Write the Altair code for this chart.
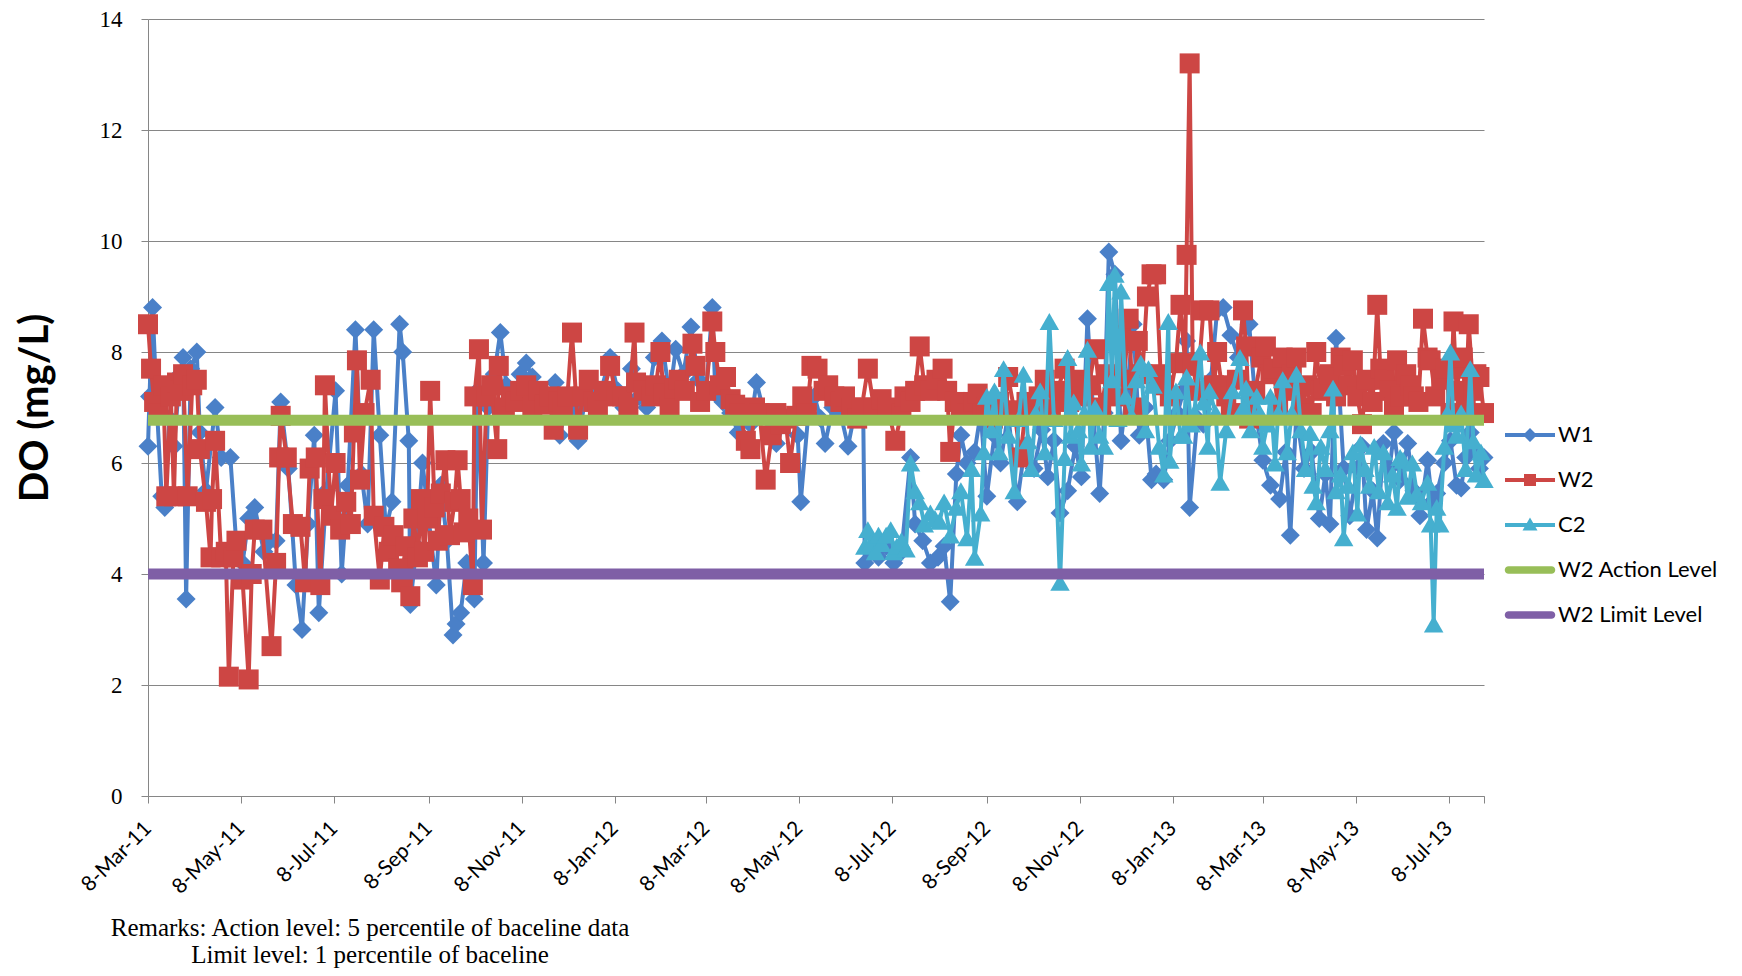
import altair as alt
import pandas as pd

# ---------------- data ----------------
START = "2011-03-08"          # day 0 of the offsets below
X_END = "2013-07-31"

w1_day = [0, 1, 3, 6, 9, 11, 14, 17, 21, 23, 25, 28, 32, 34, 38, 44, 48, 54, 58, 62, 66, 70, 76, 80, 84,
          87, 92, 97, 101, 105, 109, 112, 117, 123, 127, 131, 136, 140, 144, 148, 152, 156, 160, 165, 167,
          171, 172, 176, 180, 184, 189, 192, 196, 200, 202, 205, 209, 214, 216, 220, 223, 227, 231, 235,
          240, 244, 248, 252, 257, 262, 267, 270, 275, 279, 282, 287, 292, 297, 303, 308, 312, 317, 322,
          327, 332, 337, 342, 346, 351, 356, 361, 366, 370, 372, 377, 382, 387, 391, 395, 399, 404, 408,
          412, 417, 422, 426, 428, 433, 437, 441, 444, 449, 454, 459, 464, 469, 470, 474, 479, 484, 489,
          494, 500, 503, 508, 513, 518, 522, 526, 530, 533, 537, 542, 546, 550, 555, 559, 564, 570, 575,
          581, 586, 590, 594, 598, 603, 608, 612, 616, 620, 624, 627, 630, 634, 638, 642, 646, 650, 654,
          658, 661, 666, 670, 675, 679, 681, 683, 688, 692, 697, 701, 705, 710, 715, 722, 727, 731, 736,
          742, 746, 749, 753, 758, 763, 768, 772, 775, 779, 784, 788, 793, 796, 799, 803, 806, 810, 814,
          817, 821, 826, 830, 834, 839, 842, 845, 850, 854, 858, 861, 864, 867, 870, 873, 876]
w1_do = [6.3, 7.2, 8.8, 6.9, 5.4, 5.2, 6.8, 6.3, 7.6, 7.9, 3.55, 7.7, 8.0, 6.55, 5.5, 7.0, 6.1, 6.1, 4.5,
         4.2, 5.0, 5.2, 4.4, 4.6, 4.6, 7.1, 5.9, 3.8, 3.0, 4.9, 6.5, 3.3, 5.5, 7.3, 4.0, 5.6, 8.4, 5.8,
         4.9, 8.4, 6.5, 4.8, 5.3, 8.5, 8.0, 6.4, 3.45, 4.5, 6.0, 5.0, 3.8, 5.6, 4.6, 2.9, 3.1, 3.3, 4.2,
         3.55, 7.3, 4.2, 7.0, 7.6, 8.35, 7.4, 7.2, 7.6, 7.8, 7.55, 7.1, 7.2, 7.45, 6.5, 7.1, 7.0, 6.4,
         7.2, 7.0, 7.3, 7.9, 7.3, 7.0, 7.7, 7.2, 7.0, 7.9, 8.2, 7.2, 8.05, 7.6, 8.45, 7.5, 7.3, 8.8, 7.25,
         7.1, 6.9, 6.55, 6.8, 6.7, 7.45, 6.9, 6.6, 6.35, 6.7, 6.8, 6.5, 5.3, 6.9, 7.2, 6.8, 6.35, 7.0,
         6.9, 6.3, 7.0, 6.8, 4.2, 4.4, 4.3, 4.5, 4.2, 4.4, 6.1, 4.9, 4.6, 4.2, 4.3, 4.5, 3.5, 5.8, 6.5,
         6.0, 6.2, 6.9, 5.4, 6.5, 6.0, 6.9, 5.3, 6.3, 5.9, 6.6, 5.75, 6.4, 5.1, 5.5, 6.3, 5.75, 8.6, 6.8,
         5.45, 6.9, 9.8, 9.4, 6.4, 7.3, 8.5, 6.5, 7.0, 5.7, 5.8, 5.7, 6.4, 6.9, 7.3, 8.2, 5.2, 6.8, 6.7,
         7.5, 8.75, 8.8, 8.3, 7.9, 8.5, 6.8, 6.05, 5.6, 5.35, 6.2, 4.7, 6.9, 5.9, 6.2, 5.0, 5.8, 4.9,
         8.25, 5.9, 5.05, 5.9, 6.3, 4.8, 5.5, 4.65, 6.35, 5.9, 6.55, 5.7, 6.35, 5.5, 5.05, 6.05, 5.3,
         5.45, 6.0, 6.4, 5.6, 5.55, 6.1, 6.55, 6.2, 5.9, 6.1]

w2_day = [0, 2, 4, 7, 10, 12, 15, 17, 19, 21, 23, 26, 29, 32, 34, 38, 41, 42, 44, 48, 51, 53, 56, 58, 62,
          66, 68, 70, 75, 81, 84, 86, 87, 91, 95, 100, 103, 106, 110, 113, 115, 116, 120, 123, 126, 130,
          133, 135, 137, 139, 142, 146, 148, 152, 155, 158, 161, 164, 166, 169, 172, 174, 177, 179, 181,
          183, 185, 188, 190, 192, 195, 198, 201, 203, 205, 207, 210, 213, 214, 217, 219, 222, 225, 229,
          230, 234, 238, 241, 244, 248, 252, 256, 260, 263, 266, 269, 272, 275, 278, 282, 285, 289, 292,
          295, 299, 303, 307, 311, 315, 319, 320, 325, 330, 333, 336, 338, 342, 345, 348, 352, 357, 359,
          362, 366, 370, 372, 375, 379, 382, 385, 388, 392, 395, 398, 401, 405, 409, 412, 415, 418, 421,
          425, 429, 432, 435, 439, 443, 446, 450, 454, 457, 461, 465, 468, 472, 476, 481, 485, 490, 494,
          496, 500, 503, 506, 509, 513, 517, 521, 524, 526, 529, 533, 537, 541, 544, 547, 550, 554, 558,
          561, 564, 568, 572, 576, 580, 584, 588, 592, 596, 601, 604, 608, 613, 617, 621, 625, 629, 633,
          637, 640, 643, 646, 649, 652, 655, 658, 661, 664, 666, 670, 674, 677, 680, 681, 683, 685, 688,
          692, 696, 699, 701, 704, 707, 710, 714, 718, 720, 722, 726, 730, 733, 736, 738, 741, 744, 747,
          750, 753, 757, 760, 763, 766, 769, 771, 775, 779, 782, 784, 787, 790, 793, 796, 799, 803, 806,
          808, 811, 814, 817, 819, 821, 825, 828, 830, 833, 836, 839, 841, 844, 848, 851, 854, 856, 858,
          860, 862, 864, 866, 869, 871, 873, 876]
w2_do = [8.5, 7.7, 7.1, 6.9, 7.4, 5.4, 7.2, 5.4, 7.45, 7.3, 7.6, 5.4, 7.4, 7.5, 6.25, 5.3, 4.3, 5.35, 6.4,
         4.3, 4.4, 2.15, 4.3, 4.6, 3.9, 2.1, 4.0, 4.8, 4.8, 2.7, 4.2, 6.1, 6.85, 6.1, 4.9, 4.85, 3.85,
         5.9, 6.1, 3.8, 5.35, 7.4, 5.05, 6.0, 4.8, 5.3, 4.9, 6.55, 7.85, 5.7, 6.9, 7.5, 5.05, 3.9, 4.85,
         4.4, 4.7, 4.1, 3.85, 4.5, 3.6, 5.0, 4.3, 5.35, 4.4, 5.0, 7.3, 5.2, 4.6, 5.45, 6.05, 4.7, 5.3,
         6.05, 5.35, 4.75, 5.0, 3.8, 7.2, 8.05, 4.8, 7.2, 7.4, 6.25, 7.75, 7.0, 7.2, 7.1, 7.3, 7.4, 7.0,
         7.3, 7.05, 7.2, 6.6, 7.1, 7.0, 7.2, 8.35, 6.6, 7.2, 7.5, 7.1, 7.0, 7.3, 7.75, 7.2, 7.2, 7.0,
         8.35, 7.45, 7.3, 7.2, 7.4, 8.0, 7.25, 7.0, 7.35, 7.5, 7.3, 8.15, 7.75, 7.1, 7.3, 8.55, 8.0, 7.4,
         7.55, 7.15, 7.05, 6.9, 6.4, 6.25, 7.0, 6.9, 5.7, 6.5, 6.9, 6.7, 6.8, 6.0, 6.85, 7.2, 6.9, 7.75,
         7.7, 7.3, 7.4, 7.2, 7.1, 7.2, 7.0, 6.8, 7.0, 7.7, 7.0, 7.15, 7.0, 6.4, 6.9, 7.2, 7.1, 7.3, 8.1,
         7.4, 7.3, 7.5, 7.7, 7.3, 6.2, 7.1, 7.0, 6.9, 7.1, 7.25, 6.9, 7.0, 6.8, 7.1, 6.9, 7.55, 6.95,
         6.1, 7.1, 6.9, 7.2, 7.5, 7.0, 7.3, 7.7, 7.1, 7.5, 7.2, 7.4, 8.05, 7.0, 7.6, 7.2, 8.3, 7.5, 8.6,
         7.0, 8.2, 7.6, 9.0, 9.4, 9.4, 7.6, 7.4, 7.2, 7.8, 8.85, 7.8, 9.75, 13.2, 7.75, 7.3, 8.75, 8.75,
         7.4, 8.0, 7.4, 7.2, 6.9, 7.5, 8.75, 8.1, 6.8, 7.3, 7.9, 8.1, 7.6, 7.7, 7.0, 7.9, 7.3, 7.6, 7.9,
         7.0, 7.4, 6.9, 8.0, 7.3, 7.35, 7.6, 7.2, 7.9, 7.75, 7.4, 7.85, 7.2, 6.7, 7.5, 7.1, 8.85, 7.7,
         7.5, 7.3, 7.0, 7.85, 7.2, 7.6, 7.4, 7.2, 7.1, 8.6, 7.9, 7.85, 7.2, 7.5, 7.7, 6.9, 8.55, 7.3, 7.7,
         7.9, 7.0, 8.5, 7.3, 7.6, 7.55, 6.9]

c2_day = [470, 472, 474, 477, 479, 481, 484, 487, 489, 491, 494, 497, 500, 503, 506, 509, 513, 516, 519,
          522, 526, 530, 533, 537, 540, 542, 546, 548, 550, 553, 555, 558, 561, 564, 568, 571, 574, 577,
          579, 582, 585, 588, 591, 594, 598, 601, 603, 605, 607, 610, 612, 614, 616, 618, 621, 624, 627,
          630, 632, 634, 636, 638, 641, 645, 648, 651, 654, 656, 659, 663, 666, 669, 670, 674, 677, 679,
          681, 684, 686, 690, 692, 695, 696, 700, 703, 707, 711, 716, 718, 720, 723, 727, 729, 731, 734,
          736, 739, 741, 744, 747, 750, 753, 756, 759, 762, 764, 766, 769, 772, 775, 777, 779, 782, 784,
          787, 790, 793, 795, 798, 801, 804, 807, 810, 813, 816, 819, 821, 823, 826, 829, 832, 835, 839,
          841, 843, 845, 847, 850, 852, 854, 856, 858, 861, 864, 867, 869, 871, 874, 876]
c2_do = [4.5, 4.8, 4.55, 4.4, 4.7, 4.55, 4.7, 4.8, 4.4, 4.5, 4.6, 4.45, 6.0, 5.5, 5.3, 4.9, 5.1, 5.0,
         4.95, 5.3, 4.7, 5.2, 5.5, 4.65, 5.9, 4.3, 5.1, 6.2, 7.2, 6.6, 7.3, 6.2, 7.7, 6.5, 5.5, 6.8, 7.6,
         6.4, 5.9, 6.9, 7.3, 6.2, 8.55, 6.8, 3.85, 6.1, 7.9, 6.5, 7.1, 6.6, 6.0, 6.9, 8.05, 6.3, 7.0,
         6.5, 6.3, 9.25, 7.5, 9.4, 6.8, 9.1, 7.2, 6.85, 7.5, 7.8, 6.6, 7.7, 7.4, 6.3, 5.8, 8.55, 6.05,
         7.3, 6.5, 6.5, 7.55, 6.7, 6.9, 8.0, 7.1, 6.3, 7.3, 6.9, 5.65, 6.6, 7.3, 7.9, 7.0, 7.35, 6.6,
         7.2, 6.9, 6.3, 6.7, 7.2, 6.0, 6.9, 7.5, 6.2, 6.9, 7.6, 6.6, 5.9, 6.55, 5.6, 5.3, 6.3, 5.9, 6.6,
         7.35, 5.5, 5.8, 4.65, 5.6, 6.2, 5.1, 6.35, 5.9, 5.6, 6.3, 5.5, 6.2, 5.3, 5.8, 5.2, 6.1, 6.05,
         5.4, 6.0, 5.45, 5.3, 5.65, 4.9, 3.1, 5.2, 4.9, 6.3, 6.9, 8.0, 6.7, 6.5, 6.9, 5.9, 7.7, 6.4, 5.8,
         6.2, 5.7]

level_names = ["W2 Action Level", "W2 Limit Level"]
level_values = [6.77, 4.0]

series_names = ["W1", "W2", "C2", "W2 Action Level", "W2 Limit Level"]
series_colors = ["#4A80C8", "#CD4644", "#45AFCF", "#98BE58", "#7F5FA6"]

tick_dates = ["2011-03-08", "2011-05-08", "2011-07-08", "2011-09-08", "2011-11-08", "2012-01-08",
              "2012-03-08", "2012-05-08", "2012-07-08", "2012-09-08", "2012-11-08", "2013-01-08",
              "2013-03-08", "2013-05-08", "2013-07-08", "2013-07-31"]
y_ticks = [0, 2, 4, 6, 8, 10, 12, 14]

remarks = ["Remarks: Action level: 5 percentile of baceline data",
           "Limit level: 1 percentile of baceline"]

# ---------------- helpers ----------------
def dt(s):
    t = pd.Timestamp(s)
    return alt.DateTime(year=t.year, month=t.month, date=t.day)

def frame(days, vals):
    return pd.DataFrame({"date": pd.Timestamp(START) + pd.to_timedelta(days, unit="D"), "do": vals})

GRID = "#868686"
x_axis = alt.Axis(values=[dt(s) for s in tick_dates],
                  labelExpr="(month(datum.value) == 6 && date(datum.value) == 31) ? '' : timeFormat(datum.value, '%-d-%b-%y')",
                  labelAngle=-45, labelAlign="right", labelBaseline="middle", labelPadding=22,
                  labelFont="Lato", labelFontSize=21, labelColor="black", labelOverlap=False,
                  tickSize=7, tickColor=GRID, domainColor=GRID, grid=False, title=None)
y_axis = alt.Axis(values=y_ticks, labelFont="Liberation Serif", labelFontSize=23, labelColor="black",
                  labelPadding=19, tickSize=7, tickColor=GRID, domainColor=GRID,
                  grid=True, gridColor=GRID, gridWidth=1,
                  title="DO (mg/L)", titleFont="Lato", titleFontSize=40, titleFontWeight="bold",
                  titleColor="black", titlePadding=44)
x_scale = alt.Scale(domain=[dt(START), dt(X_END)])
y_scale = alt.Scale(domain=[0, 14])

X = alt.X("date:T", scale=x_scale, axis=x_axis)
Y = alt.Y("do:Q", scale=y_scale, axis=y_axis)

marker_shapes = ["diamond", "square", "triangle-up"]
marker_sizes = [360, 400, 380]
layers = []
for name, days, vals, shape, size, col in zip(series_names[:3], [w1_day, w2_day, c2_day],
                                              [w1_do, w2_do, c2_do], marker_shapes, marker_sizes,
                                              series_colors[:3]):
    base = alt.Chart(frame(days, vals))
    layers.append(base.mark_line(color=col, strokeWidth=4).encode(x=X, y=Y))
    layers.append(base.mark_point(shape=shape, size=size, filled=True, color=col, opacity=1,
                                  strokeWidth=0).encode(x=X, y=Y))

for name, val, col in zip(level_names, level_values, series_colors[3:]):
    layers.append(alt.Chart(pd.DataFrame({"do": [val]})).mark_rule(color=col, strokeWidth=11)
                  .encode(y=Y))

# legend symbols: line + marker drawn as custom paths (unit square -1..1)
bar = "M-1,-0.08L1,-0.08L1,0.08L-1,0.08Z"
thick = "M-0.86,-0.15L0.86,-0.15A0.15,0.15 0 0 1 0.86,0.15L-0.86,0.15A0.15,0.15 0 0 1 -0.86,-0.15Z"
legend_paths = [bar + " M0,-0.28L0.28,0L0,0.28L-0.28,0Z",
                bar + " M-0.24,-0.24L0.24,-0.24L0.24,0.24L-0.24,0.24Z",
                bar + " M0,-0.3L0.3,0.22L-0.3,0.22Z",
                thick, thick]
legend_layer = alt.Chart(pd.DataFrame({"series": series_names})).transform_filter("false").mark_point(
    filled=True, opacity=1, size=2500, strokeWidth=0).encode(
    color=alt.Color("series:N", scale=alt.Scale(domain=series_names, range=series_colors),
                    legend=alt.Legend(title=None, orient="none", legendX=1357, legendY=391,
                                      symbolSize=2500, symbolStrokeWidth=0, labelFont="Lato",
                                      labelFontSize=22, labelColor="black", rowPadding=9,
                                      labelOffset=3)),
    shape=alt.Shape("series:N", scale=alt.Scale(domain=series_names, range=legend_paths)))
layers.append(legend_layer)

chart = alt.layer(*layers).properties(
    width=1336, height=777,
    padding={"left": 140, "top": 11, "right": 250, "bottom": 172},
    autosize=alt.AutoSizeParams(type="none"),
    title=alt.TitleParams(text=remarks, orient="bottom", anchor="start", align="center", frame="group",
                          dx=222, offset=19, font="Liberation Serif", fontSize=25, fontWeight="normal",
                          color="black", lineHeight=27),
).configure_view(fill="#C0C0C0", stroke=None)

chart.save("out.html", embed_options={"renderer": "svg", "actions": False})
